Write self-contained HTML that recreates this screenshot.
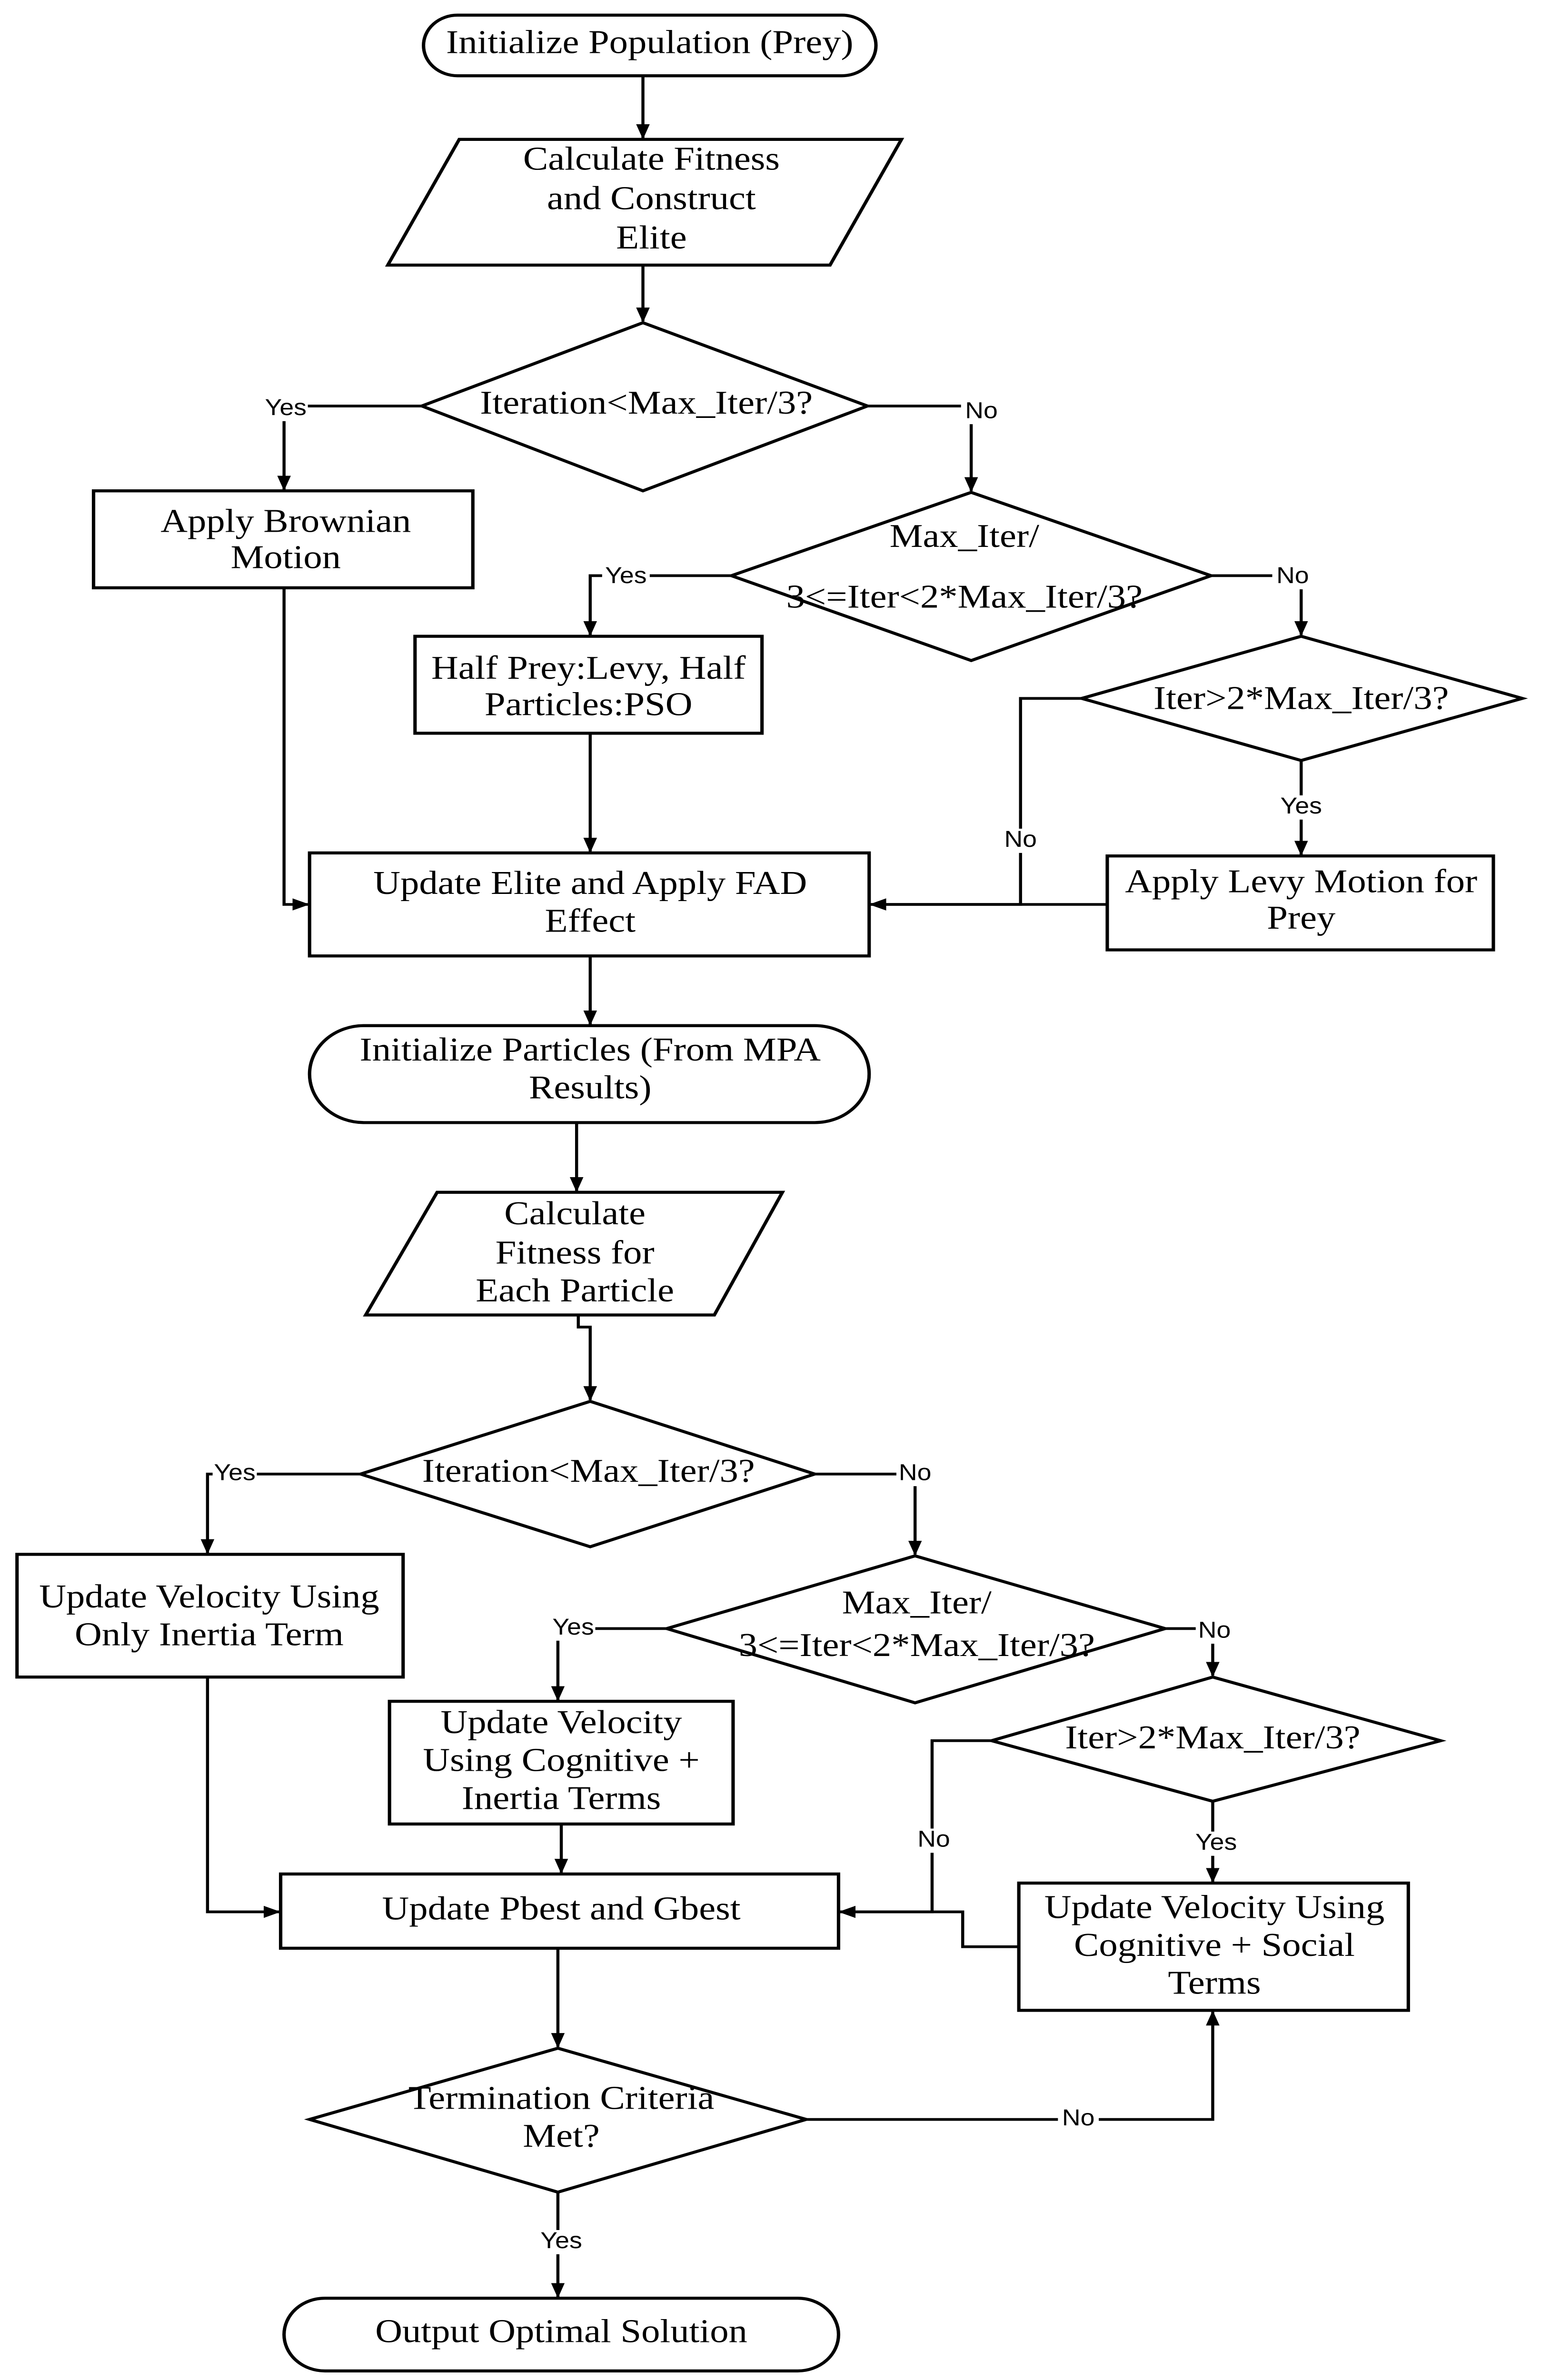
<!DOCTYPE html>
<html><head><meta charset="utf-8"><style>html,body{margin:0;padding:0;background:#fff;width:100%;height:100%;overflow:hidden}svg{display:block;position:fixed;left:0;top:0;width:100vw;height:100vh}</style></head>
<body>
<svg xmlns="http://www.w3.org/2000/svg" viewBox="0 0 906 1571" preserveAspectRatio="none">
<defs><marker id="a" markerWidth="10" markerHeight="12" refX="9" refY="6" orient="auto" markerUnits="userSpaceOnUse"><path d="M0,2 L10,6 L0,10 z" fill="#000"/></marker></defs>
<g fill="none" stroke="#000" stroke-width="2">
<rect x="249" y="10" width="266" height="40" rx="20"/>
<polygon points="270,92 530,92 488,175 228,175"/>
<polygon points="248,268 378,213 510,268 378,324"/>
<rect x="55" y="324" width="223" height="64"/>
<polygon points="430,380 571,325 712,380 571,436"/>
<rect x="244" y="420" width="204" height="64"/>
<polygon points="636,461 765,420 895,461 765,502"/>
<rect x="651" y="565" width="227" height="62"/>
<rect x="182" y="563" width="329" height="68"/>
<rect x="182" y="677" width="329" height="64" rx="32"/>
<polygon points="257,787 460,787 420,868 215,868"/>
<polygon points="212,973 347,925 479,973 347,1021"/>
<rect x="10" y="1026" width="227" height="81"/>
<polygon points="392,1075 538,1027 685,1075 538,1124"/>
<rect x="229" y="1123" width="202" height="81"/>
<polygon points="583,1149 713,1107 847,1149 713,1189"/>
<rect x="599" y="1243" width="229" height="84"/>
<rect x="165" y="1237" width="328" height="49"/>
<polygon points="182,1399 328,1352 474,1399 328,1447"/>
<rect x="167" y="1517" width="326" height="48" rx="24"/>
</g>
<g fill="none" stroke="#000" stroke-width="1.8" marker-end="url(#a)">
<path d="M378,50 V91"/>
<path d="M378,175 V212"/>
<path d="M248,268 H167 V323"/>
<path d="M510,268 H571 V324"/>
<path d="M430,380 H347 V419"/>
<path d="M712,380 H765 V419"/>
<path d="M765,502 V564"/>
<path d="M636,461 H600 V597 H512"/>
<path d="M651,597 H512"/>
<path d="M167,388 V597 H181"/>
<path d="M347,484 V562"/>
<path d="M347,631 V676"/>
<path d="M339,741 V786"/>
<path d="M340,868 V876 H347 V924"/>
<path d="M212,973 H122 V1025"/>
<path d="M479,973 H538 V1026"/>
<path d="M392,1075 H328 V1122"/>
<path d="M685,1075 H713 V1106"/>
<path d="M713,1189 V1242"/>
<path d="M583,1149 H548 V1262 H494"/>
<path d="M599,1285 H566 V1262 H494"/>
<path d="M122,1107 V1262 H164"/>
<path d="M330,1204 V1236"/>
<path d="M328,1286 V1351"/>
<path d="M474,1399 H713 V1328"/>
<path d="M328,1447 V1516"/>
</g>
<g font-family="Liberation Sans, sans-serif" font-size="15" text-anchor="middle" dominant-baseline="middle">
<g fill="#fff"><rect x="155" y="262" width="26" height="16"/><rect x="565" y="264" width="24" height="16"/><rect x="354" y="373" width="28" height="16"/><rect x="748" y="373" width="24" height="16"/><rect x="752" y="525" width="26" height="16"/><rect x="590" y="547" width="20" height="16"/><rect x="125" y="965" width="26" height="16"/><rect x="527" y="965" width="22" height="16"/><rect x="324" y="1067" width="26" height="16"/><rect x="703" y="1069" width="22" height="16"/><rect x="702" y="1209" width="26" height="16"/><rect x="538" y="1207" width="22" height="16"/><rect x="622" y="1391" width="24" height="16"/><rect x="317" y="1472" width="26" height="16"/></g>
<text x="168" y="270">Yes</text><text x="577" y="272">No</text>
<text x="368" y="381">Yes</text><text x="760" y="381">No</text>
<text x="765" y="533">Yes</text><text x="600" y="555">No</text>
<text x="138" y="973">Yes</text><text x="538" y="973">No</text>
<text x="337" y="1075">Yes</text><text x="714" y="1077">No</text>
<text x="715" y="1217">Yes</text><text x="549" y="1215">No</text>
<text x="634" y="1399">No</text><text x="330" y="1480">Yes</text>
</g>
<g font-family="Liberation Serif, serif" font-size="22" text-anchor="middle" dominant-baseline="middle">
<text x="382" y="30">Initialize Population (Prey)</text>
<text x="383" y="107">Calculate Fitness</text><text x="383" y="133">and Construct</text><text x="383" y="159">Elite</text>
<text x="380" y="268">Iteration&lt;Max_Iter/3?</text>
<text x="168" y="346">Apply Brownian</text><text x="168" y="370">Motion</text>
<text x="567" y="356">Max_Iter/</text><text x="567" y="396">3&lt;=Iter&lt;2*Max_Iter/3?</text>
<text x="346" y="443">Half Prey:Levy, Half</text><text x="346" y="467">Particles:PSO</text>
<text x="765" y="463">Iter&gt;2*Max_Iter/3?</text>
<text x="765" y="584">Apply Levy Motion for</text><text x="765" y="608">Prey</text>
<text x="347" y="585">Update Elite and Apply FAD</text><text x="347" y="610">Effect</text>
<text x="347" y="695">Initialize Particles (From MPA</text><text x="347" y="720">Results)</text>
<text x="338" y="803">Calculate</text><text x="338" y="829">Fitness for</text><text x="338" y="854">Each Particle</text>
<text x="346" y="973">Iteration&lt;Max_Iter/3?</text>
<text x="123" y="1056">Update Velocity Using</text><text x="123" y="1081">Only Inertia Term</text>
<text x="539" y="1060">Max_Iter/</text><text x="539" y="1088">3&lt;=Iter&lt;2*Max_Iter/3?</text>
<text x="330" y="1139">Update Velocity</text><text x="330" y="1164">Using Cognitive +</text><text x="330" y="1189">Inertia Terms</text>
<text x="713" y="1149">Iter&gt;2*Max_Iter/3?</text>
<text x="714" y="1261">Update Velocity Using</text><text x="714" y="1286">Cognitive + Social</text><text x="714" y="1311">Terms</text>
<text x="330" y="1262">Update Pbest and Gbest</text>
<text x="330" y="1387">Termination Criteria</text><text x="330" y="1412">Met?</text>
<text x="330" y="1541">Output Optimal Solution</text>
</g>
</svg>
</body></html>
